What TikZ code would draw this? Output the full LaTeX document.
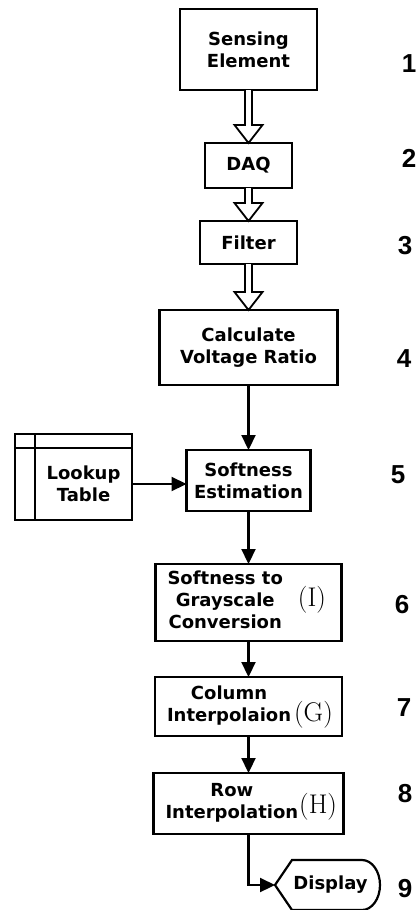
\documentclass[tikz,border=0pt]{standalone}
\usepackage{fontspec}
\usepackage{tikz}
\usetikzlibrary{positioning,arrows.meta,calc}
\newfontfamily\boxfont{DejaVu Sans}
\newfontfamily\numfont{Liberation Sans}

% paren label like (I), (G), (H)
\newcommand{\tagtext}[1]{{\rmfamily\mdseries\fontsize{27}{27}\selectfont(#1)}}

% hollow block arrow between two stacked boxes
\newcommand{\hollowarrow}[2]{%
  \draw[line width=1.8pt, fill=white]
    ($(#1.south)+(-3.5pt,0)$) -- ($(#2.north)+(-3.5pt,18pt)$)
    -- ($(#2.north)+(-14pt,18pt)$) -- (#2.north)
    -- ($(#2.north)+(14pt,18pt)$) -- ($(#2.north)+(3.5pt,18pt)$)
    -- ($(#1.south)+(3.5pt,0)$);
}

\begin{document}
\begin{tikzpicture}[
    x=1pt, y=1pt,
    font=\boxfont\bfseries\fontsize{18}{22}\selectfont,
    stage/.style  ={draw, line width=2.2pt, outer sep=0pt, inner sep=0pt,
                    align=center},
    tagged/.style ={draw, line width=2.2pt, outer sep=0pt, inner sep=0pt,
                    inner xsep=12pt, text width=#1, align=justify},
    arrow/.style  ={-{Triangle[width=14pt,length=15pt]}, line width=2.2pt},
    stepnum/.style={font=\numfont\bfseries\fontsize{26}{26}\selectfont}
]
\useasboundingbox (0,0) rectangle (415,-910);

% --- main chain ---
\node[stage, minimum width=137pt, minimum height=81pt] (sense) at (248.5,-49.5)
    {Sensing\\Element};
\node[stage, minimum width=87pt, minimum height=45pt, below=53pt of sense] (daq) {DAQ};
\node[stage, minimum width=97pt, minimum height=43pt, below=33pt of daq] (filter) {Filter};
\node[stage, minimum width=178pt, minimum height=75pt, below=46pt of filter] (calc)
    {Calculate\\Voltage Ratio};
\node[stage, minimum width=124pt, minimum height=61pt, below=65pt of calc] (soft)
    {Softness\\Estimation};

% --- tagged boxes ---
\node[tagged=162pt, minimum height=77pt, below=53pt of soft] (gray)
    {\noindent\begin{tabular}{@{}c@{}}Softness to\\Grayscale\\Conversion\end{tabular}\hspace{15pt}\rlap{\tagtext{I}}\hfill};
\node[tagged=163pt, minimum height=59pt, below=36pt of gray] (column)
    {\noindent\begin{tabular}[b]{@{}c@{}}Column\\Interpolaion\end{tabular}\hspace{3pt}\rlap{\tagtext{G}}\hfill};
\node[tagged=166pt, minimum height=61pt, below=37pt of column] (row)
    {\noindent\begin{tabular}[b]{@{}c@{}}Row\\Interpolation\end{tabular}\hspace{1pt}\rlap{\raisebox{5pt}{\tagtext{H}}}\hfill};

% --- lookup table ---
\node[stage, minimum width=97pt, minimum height=72pt] (lookup) at (83.5,-484) {Lookup\\Table};
\draw[line width=2.2pt] (lookup.north east) -- ++(0,14pt) -| ($(lookup.south west)+(-20pt,0)$)
    -- (lookup.south west);
\draw[line width=2.2pt] (lookup.north west) -- ++(0,14pt)
    (lookup.north west) -- ++(-20pt,0);

% --- display ---
\node[minimum width=105pt, minimum height=50pt, inner sep=0pt, outer sep=0pt] (disp)
    at (327.5,-885) {\hspace{6pt}Display};
\draw[line width=2.2pt] (disp.west) -- ($(disp.north west)+(17pt,0)$)
    -- ($(disp.north east)+(-18pt,0)$) arc[start angle=90, end angle=-90, x radius=18pt, y radius=25pt]
    -- ($(disp.south west)+(17pt,0)$) -- cycle;

% --- arrows ---
\hollowarrow{sense}{daq}
\hollowarrow{daq}{filter}
\hollowarrow{filter}{calc}
\draw[arrow] (calc) -- (soft);
\draw[arrow] (lookup.east) -- (lookup.east -| soft.west);
\draw[arrow] (soft) -- (gray);
\draw[arrow] (gray) -- (column);
\draw[arrow] (column) -- (row);
\draw[arrow] (row.south) |- (disp.west);

% --- step numbers ---
\foreach \n/\x/\y in {1/409/64, 2/409/158, 3/405/246, 4/404/359, 5/398/475,
                      6/402/605, 7/404/708, 8/405/794, 9/405/889}
  \node[stepnum] (num\n) at (\x,-\y) {\n};

\end{tikzpicture}
\end{document}
